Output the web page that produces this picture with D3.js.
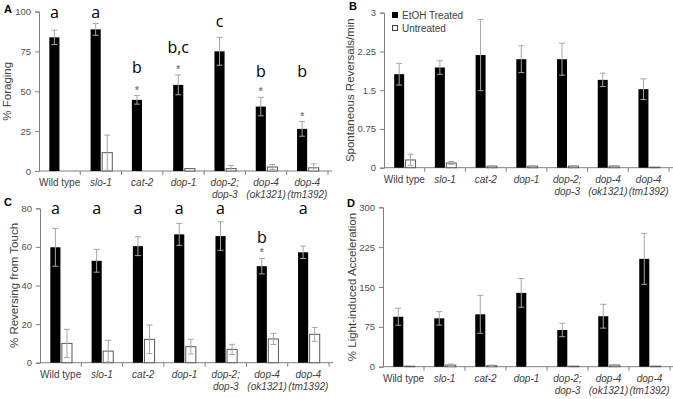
<!DOCTYPE html>
<html>
<head>
<meta charset="utf-8">
<script src="https://cdn.jsdelivr.net/npm/d3@7"></script>
<style>
  body { margin: 0; background: #fff; }
  svg { display: block; font-family: "Liberation Sans", Arial, sans-serif; }
</style>
</head>
<body>
<div id="chart"></div>
<script>
let W = 673
let H = 399

// categories (line-split as in the figure)
let categories = ["Wild type", "slo-1", "cat-2", "dop-1", "dop-2; dop-3", "dop-4 (ok1321)", "dop-4 (tm1392)"]
let categoryLines = [["Wild type"], ["slo-1"], ["cat-2"], ["dop-1"], ["dop-2;", "dop-3"], ["dop-4", "(ok1321)"], ["dop-4", "(tm1392)"]]

// A: % Foraging
let foragingEtoh = [83.8, 88.8, 44.6, 54, 75, 40.4, 26.4]
let foragingEtohErr = [4.5, 3.7, 2.7, 6.2, 8.7, 5.8, 4.6]
let foragingUntr = [0, 11.5, 0, 1.5, 1.5, 2.5, 2]
let foragingUntrErr = [0, 11, 0, 0, 2, 1.5, 2.5]
let foragingLetters = ["a", "a", "b", "b,c", "c", "b", "b"]
let foragingLetterLevel = [95.9, 95.9, 61.4, 73.9, 90.2, 58.9, 58.9]
let foragingStars = [false, false, true, true, false, true, true]

// B: spontaneous reversals / min
let reversalsEtoh = [1.81, 1.94, 2.18, 2.10, 2.10, 1.70, 1.52]
let reversalsEtohErr = [0.21, 0.13, 0.69, 0.26, 0.31, 0.13, 0.20]
let reversalsUntr = [0.15, 0.09, 0.03, 0.03, 0.03, 0.03, 0.01]
let reversalsUntrErr = [0.11, 0.03, 0.01, 0.01, 0.01, 0.01, 0]

// C: % reversing from touch
let touchEtoh = [59.8, 52.8, 60.4, 66.5, 65.6, 50, 57.2]
let touchEtohErr = [9.8, 5.9, 4.9, 5.7, 7.4, 4, 3.2]
let touchUntr = [10, 6, 12.1, 8.3, 6.9, 12.3, 14.7]
let touchUntrErr = [7.3, 5.6, 7.4, 3.8, 2.6, 2.9, 3.6]
let touchLetters = ["a", "a", "a", "a", "a", "b", "a"]
let touchLetterLevel = [77, 77, 77, 77, 77, 61.9, 77]
let touchStars = [false, false, false, false, false, true, false]

// D: % light-induced acceleration
let lightEtoh = [94, 91, 98.6, 139, 69, 95, 203]
let lightEtohErr = [16, 12.6, 35.7, 27, 12.6, 22.4, 48]
let lightUntr = [1, 3, 2, 0, 1, 3, 1]
let lightUntrErr = [0, 2, 1, 0, 0, 1, 0]

// tick labels
let ticksA = [0, 25, 50, 75, 100]
let ticksB = [0, 0.75, 1.5, 2.25, 3]
let ticksC = [0, 20, 40, 60, 80]
let ticksD = [0, 75, 150, 225, 300]

let legendLabels = ["EtOH Treated", "Untreated"]

let svg = d3.select("#chart")
	.append("svg")
	.attr("width", W)
	.attr("height", H)

let axisColor = "#7f7f7f"
let errColor = "#a6a6a6"
let textColor = "#404040"

let drawPanel = function(p) {
	let g = svg.append("g")

	let x = d3.scaleBand()
		.domain(categories)
		.range([p.left, p.right])

	let y = d3.scaleLinear()
		.domain([0, p.ticks[p.ticks.length - 1]])
		.range([p.bottom, p.top])

	let step = x.step()
	let bw = step * 0.245
	let blackX = i => x(categories[i]) + step * 0.25
	let whiteX = i => x(categories[i]) + step * 0.53

	// y axis
	let yAxis = d3.axisLeft(y)
		.tickValues(p.ticks)
		.tickSize(4)
		.tickPadding(4)
		.tickFormat(d => String(d))
	let ya = g.append("g")
		.attr("transform", "translate(" + p.left + ",0)")
		.call(yAxis)
	ya.select(".domain").attr("stroke", axisColor)
	ya.selectAll(".tick line").attr("stroke", axisColor)
	ya.selectAll(".tick text")
		.attr("fill", "#505050")
		.attr("font-family", "Liberation Sans, Arial, sans-serif")
		.attr("font-size", 9.5)

	// x axis: ticks at category boundaries
	let xa = g.append("g")
	xa.append("line")
		.attr("x1", p.left).attr("x2", p.right + 4)
		.attr("y1", p.bottom).attr("y2", p.bottom)
		.attr("stroke", axisColor)
	xa.selectAll("line.tk")
		.data(d3.range(1, categories.length + 1))
		.enter()
		.append("line")
		.attr("class", "tk")
		.attr("x1", i => p.left + i * step)
		.attr("x2", i => p.left + i * step)
		.attr("y1", p.bottom)
		.attr("y2", p.bottom + 4)
		.attr("stroke", axisColor)

	let lbl = xa.selectAll("text.cat")
		.data(categoryLines)
		.enter()
		.append("text")
		.attr("class", "cat")
		.attr("text-anchor", "middle")
		.attr("font-size", 10)
		.attr("fill", textColor)
		.attr("font-style", (d, i) => i == 0 ? "normal" : "italic")
	lbl.selectAll("tspan")
		.data((d, i) => d.map(t => ({ t: t, i: i })))
		.enter()
		.append("tspan")
		.attr("x", d => x(categories[d.i]) + step / 2)
		.attr("y", (d, j) => p.bottom + p.labelDy + j * 12)
		.text(d => d.t)

	// black bars
	g.selectAll("rect.etoh")
		.data(p.etoh)
		.enter()
		.append("rect")
		.attr("class", "etoh")
		.attr("x", (d, i) => blackX(i))
		.attr("y", d => y(d))
		.attr("width", bw)
		.attr("height", d => p.bottom - y(d))
		.attr("fill", "#000")

	// white bars (zero values are not drawn)
	let untr = p.untr.map((v, i) => ({ v: v, i: i, e: p.untrErr[i] })).filter(d => d.v > 0)
	g.selectAll("rect.untr")
		.data(untr)
		.enter()
		.append("rect")
		.attr("class", "untr")
		.attr("x", d => whiteX(d.i))
		.attr("y", d => y(d.v))
		.attr("width", bw)
		.attr("height", d => p.bottom - y(d.v))
		.attr("fill", "#fff")
		.attr("stroke", "#595959")
		.attr("stroke-width", 1)

	// error bars
	let errs = p.etoh.map((v, i) => ({ cx: blackX(i) + bw / 2, v: v, e: p.etohErr[i] }))
		.concat(untr.map(d => ({ cx: whiteX(d.i) + bw / 2, v: d.v, e: d.e })))
		.filter(d => d.e > 0)
	let eg = g.selectAll("g.err")
		.data(errs)
		.enter()
		.append("g")
		.attr("stroke", errColor)
		.attr("stroke-width", 1)
	let lo = d => y(Math.max(0, d.v - d.e))
	let hi = d => y(d.v + d.e)
	eg.append("line")
		.attr("x1", d => d.cx).attr("x2", d => d.cx)
		.attr("y1", lo).attr("y2", hi)
	eg.append("line")
		.attr("x1", d => d.cx - 3).attr("x2", d => d.cx + 3)
		.attr("y1", hi).attr("y2", hi)
	eg.append("line")
		.attr("x1", d => d.cx - 3).attr("x2", d => d.cx + 3)
		.attr("y1", lo).attr("y2", lo)

	// significance letters and stars
	if (p.letters) {
		g.selectAll("text.let")
			.data(p.letters)
			.enter()
			.append("text")
			.attr("class", "let")
			.attr("x", (d, i) => blackX(i) + bw / 2)
			.attr("y", (d, i) => y(p.letterLevel[i]))
			.attr("text-anchor", "middle")
			.attr("font-family", "Open Sans, sans-serif")
			.attr("font-size", 16)
			.attr("fill", "#000")
			.text(d => d)

		let stars = p.stars.map((s, i) => ({ s: s, i: i })).filter(d => d.s)
		g.selectAll("text.star")
			.data(stars)
			.enter()
			.append("text")
			.attr("class", "star")
			.attr("x", d => blackX(d.i) + bw / 2)
			.attr("y", d => y(p.etoh[d.i] + p.etohErr[d.i]) - 2)
			.attr("text-anchor", "middle")
			.attr("font-size", 10)
			.attr("font-weight", "bold")
			.attr("fill", "#808080")
			.text("*")
	}

	// y axis title
	g.append("text")
		.attr("transform", "translate(" + p.titleX + "," + ((p.top + p.bottom) / 2) + ") rotate(-90)")
		.attr("text-anchor", "middle")
		.attr("dy", "0.35em")
		.attr("font-size", 11.5)
		.attr("fill", textColor)
		.text(p.title)

	// panel letter
	g.append("text")
		.attr("x", p.tagX)
		.attr("y", p.tagY)
		.attr("font-size", 11)
		.attr("font-weight", "bold")
		.attr("fill", "#000")
		.text(p.tag)
}

drawPanel({
	tag: "A", tagX: 4, tagY: 13,
	left: 39, right: 328, top: 11.5, bottom: 171, labelDy: 15,
	ticks: ticksA, title: "% Foraging", titleX: 7,
	etoh: foragingEtoh, etohErr: foragingEtohErr, untr: foragingUntr, untrErr: foragingUntrErr,
	letters: foragingLetters, letterLevel: foragingLetterLevel, stars: foragingStars
})

drawPanel({
	tag: "B", tagX: 349, tagY: 10,
	left: 384, right: 669, top: 12.7, bottom: 167.7, labelDy: 15.5,
	ticks: ticksB, title: "Spontaneous Reversals/min", titleX: 350,
	etoh: reversalsEtoh, etohErr: reversalsEtohErr, untr: reversalsUntr, untrErr: reversalsUntrErr
})

drawPanel({
	tag: "C", tagX: 4, tagY: 206,
	left: 40, right: 329, top: 208.3, bottom: 362.7, labelDy: 15,
	ticks: ticksC, title: "% Reversing from Touch", titleX: 14,
	etoh: touchEtoh, etohErr: touchEtohErr, untr: touchUntr, untrErr: touchUntrErr,
	letters: touchLetters, letterLevel: touchLetterLevel, stars: touchStars
})

drawPanel({
	tag: "D", tagX: 347, tagY: 207,
	left: 383, right: 670, top: 207.3, bottom: 366.7, labelDy: 15,
	ticks: ticksD, title: "% Light-induced Acceleration", titleX: 352,
	etoh: lightEtoh, etohErr: lightEtohErr, untr: lightUntr, untrErr: lightUntrErr
})

// legend in panel B
let legend = svg.append("g")
legend.selectAll("rect")
	.data(legendLabels)
	.enter()
	.append("rect")
	.attr("x", 392.5)
	.attr("y", (d, i) => 12.5 + i * 13)
	.attr("width", 5)
	.attr("height", 5)
	.attr("fill", (d, i) => i == 0 ? "#000" : "#fff")
	.attr("stroke", (d, i) => i == 0 ? "#000" : "#404040")
legend.selectAll("text")
	.data(legendLabels)
	.enter()
	.append("text")
	.attr("x", 402)
	.attr("y", (d, i) => 18.5 + i * 13)
	.attr("font-size", 10)
	.attr("fill", textColor)
	.text(d => d)
</script>
</body>
</html>
